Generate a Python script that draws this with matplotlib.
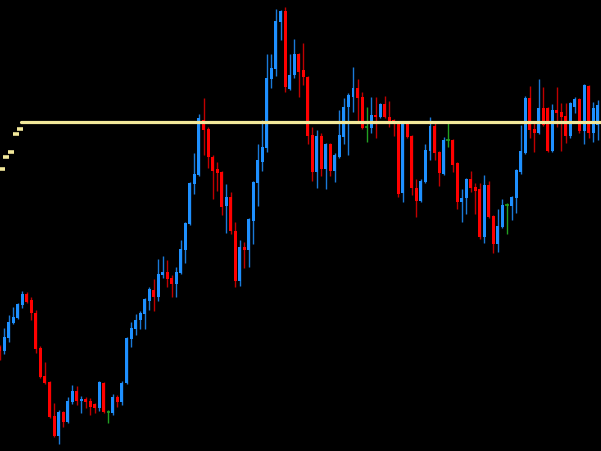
import numpy as np
import matplotlib.pyplot as plt

# OHLC в пунктах, по одной свече на бар
opens = [104, 100, 113, 128, 133, 146, 157, 151, 138, 103, 75, 69, 35, 15, 39, 29, 49, 60, 50, 52,
         50, 47, 43, 68, 39, 38, 54, 49, 68, 112, 122, 131, 137, 150, 161, 154, 176, 179, 173, 167,
         178, 201, 227, 267, 276, 331, 322, 294, 282, 279, 245, 254, 220, 170, 204, 201, 230, 268, 289, 303,
         372, 382, 429, 440, 362, 376, 397, 381, 374, 316, 279, 315, 282, 307, 280, 294, 314, 344, 354, 363,
         354, 324, 323, 336, 334, 347, 334, 331, 328, 258, 328, 315, 263, 250, 269, 300, 325, 299, 277, 311,
         311, 288, 249, 253, 272, 264, 262, 214, 266, 235, 207, 224, 246, 245, 253, 279, 298, 353, 322, 318,
         343, 343, 300, 341, 339, 335, 315, 344, 352, 320, 365, 318, 326]
highs = [106, 123, 136, 144, 148, 160, 159, 154, 141, 105, 89, 70, 48, 41, 40, 54, 66, 65, 55, 54,
         53, 48, 70, 69, 41, 57, 56, 70, 114, 129, 137, 140, 153, 164, 172, 192, 195, 191, 176, 184,
         211, 229, 269, 298, 337, 353, 324, 296, 289, 280, 267, 259, 229, 211, 209, 233, 270, 307, 331, 397,
         397, 442, 441, 444, 397, 412, 398, 408, 375, 324, 321, 318, 308, 308, 298, 341, 353, 358, 384, 372,
         359, 344, 354, 354, 348, 355, 350, 332, 329, 330, 330, 316, 272, 272, 307, 334, 328, 300, 314, 328,
         312, 289, 262, 273, 280, 268, 268, 276, 270, 236, 242, 252, 248, 255, 282, 326, 355, 365, 328, 372,
         364, 344, 347, 364, 348, 348, 349, 354, 353, 367, 366, 349, 351]
lows = [91, 97, 109, 127, 132, 143, 148, 131, 98, 73, 67, 33, 14, 7, 24, 28, 47, 46, 38, 43,
        36, 38, 40, 38, 28, 36, 44, 46, 67, 104, 116, 122, 122, 141, 140, 150, 173, 164, 154, 154,
        177, 188, 226, 257, 275, 296, 283, 252, 260, 236, 218, 217, 164, 165, 183, 184, 207, 245, 280, 299,
        363, 375, 411, 359, 361, 373, 354, 366, 307, 270, 263, 275, 262, 275, 269, 293, 307, 296, 339, 329,
        322, 309, 318, 313, 333, 333, 324, 315, 254, 249, 313, 256, 234, 249, 268, 291, 291, 265, 276, 304,
        279, 242, 229, 237, 259, 237, 212, 208, 233, 198, 199, 223, 217, 231, 238, 277, 297, 313, 299, 317,
        325, 299, 299, 324, 300, 308, 313, 338, 318, 307, 313, 309, 311]
closes = [100, 114, 129, 134, 147, 157, 149, 138, 102, 74, 68, 34, 15, 39, 29, 50, 60, 50, 52, 49,
          44, 43, 69, 39, 39, 54, 49, 68, 113, 123, 131, 138, 152, 162, 154, 177, 179, 172, 167, 179,
          202, 228, 268, 277, 333, 321, 294, 280, 278, 244, 254, 220, 170, 204, 201, 232, 269, 291, 304, 373,
          383, 430, 440, 364, 376, 397, 379, 374, 315, 279, 315, 282, 307, 280, 296, 316, 344, 356, 363, 353,
          323, 324, 336, 334, 347, 334, 329, 328, 257, 328, 314, 263, 250, 270, 301, 325, 298, 278, 311, 311,
          286, 249, 253, 272, 263, 260, 214, 266, 234, 207, 225, 246, 246, 254, 281, 300, 353, 321, 318, 343,
          326, 300, 341, 338, 334, 315, 348, 352, 320, 366, 318, 343, 346]

# уровень и его хвост (пунктир слева)
level = 329
level_start = 5
trail_idx = [-0.5, 0.5, 1.5, 2.5, 3.5, 4.5]
trail_vals = [288, 282, 294, 299, 317, 322]


def main():
    o = np.array(opens)
    h = np.array(highs)
    l = np.array(lows)
    c = np.array(closes)
    x = np.arange(len(o))

    up = c > o
    down = c < o
    doji = c == o

    fig = plt.figure(figsize=(6.01, 4.51), dpi=100, facecolor='black')
    ax = fig.add_axes([0, 0, 1, 1])
    ax.set_facecolor('black')

    # тени
    wick_colors = np.where(up, '#1a7ad8', np.where(down, '#c00000', '#22a022'))
    ax.vlines(x, l, h, colors=wick_colors, linewidth=1.0, zorder=2)

    # тела
    ax.bar(x[up], (c - o)[up], bottom=o[up], width=0.66, color='#1e90ff', linewidth=0, zorder=3)
    ax.bar(x[down], (o - c)[down], bottom=c[down], width=0.66, color='#ff0000', linewidth=0, zorder=3)
    ax.hlines(o[doji], x[doji] - 0.4, x[doji] + 0.4, colors='#22a022', linewidth=1.2, zorder=3)

    # уровень
    ax.plot([level_start - 0.2, len(o) + 1], [level, level], color='#f2e89a', linewidth=2.3,
            solid_capstyle='round', zorder=4)
    ax.plot(trail_idx, trail_vals, linestyle='none', marker='_', markersize=5,
            markeredgewidth=2.6, color='#f2e89a', zorder=4)

    ax.set_xlim(0.07, 132.75)
    ax.set_ylim(0, 451)
    ax.axis('off')

    fig.savefig('out.png', dpi=100, facecolor='black')


if __name__ == '__main__':
    main()
